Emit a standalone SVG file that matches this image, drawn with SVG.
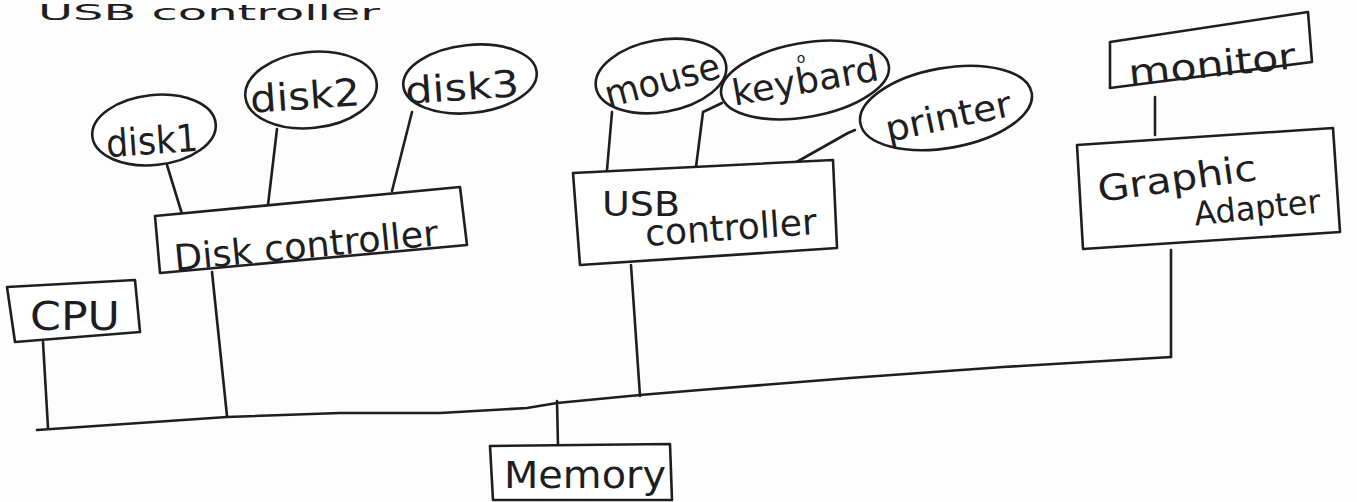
<svg xmlns="http://www.w3.org/2000/svg" width="1357" height="502" viewBox="0 0 1357 502">
<style>
.s{fill:none;stroke:#1e1e22;stroke-width:2.6;stroke-linejoin:round;stroke-linecap:round}
.b{fill:#ffffff;stroke:#1e1e22;stroke-width:2.6;stroke-linejoin:round}
.t{font-family:"DejaVu Sans","Liberation Sans",sans-serif;fill:#1e1e22;text-anchor:middle}
.ts{font-family:"DejaVu Sans","Liberation Sans",sans-serif;fill:#1e1e22;text-anchor:start}
</style>
<rect width="1357" height="502" fill="#fdfdfd"/>
<text class="ts" x="38" y="20" style="font-size:22px" textLength="342" lengthAdjust="spacingAndGlyphs">USB controller</text>

<g id="connectors">
<polyline class="s" points="167,165 182,214"/>
<polyline class="s" points="277,129 268,205"/>
<polyline class="s" points="412,112 392,191"/>
<polyline class="s" points="612,112 607,170"/>
<polyline class="s" points="722,103 703,112 696,167"/>
<polyline class="s" points="855,130 848,133 793,164"/>
<polyline class="s" points="1155,97 1155,135"/>
<polyline class="s" points="212,272 227,416"/>
<polyline class="s" points="43,342 48,428"/>
<polyline class="s" points="631,265 640,396"/>
<polyline class="s" points="557,401 558,446"/>
<polyline class="s" points="1171,250 1171,357"/>
<polyline class="s" points="37,430 227,417 340,413 440,413 527,408 557,403 640,395 700,390 850,378 1003,367 1171,357"/>
</g>

<g id="disk1">
<ellipse class="b" cx="154" cy="130" rx="62" ry="35" transform="rotate(-6 154 130)"/>
<text class="t" x="152" y="154" style="font-size:38px" textLength="92" lengthAdjust="spacingAndGlyphs" transform="rotate(-4 152 140)">disk1</text>
</g>
<g id="disk2">
<ellipse class="b" cx="311" cy="90" rx="66" ry="38" transform="rotate(-6 311 90)"/>
<text class="t" x="305" y="109" style="font-size:38px" textLength="110" lengthAdjust="spacingAndGlyphs" transform="rotate(-4 305 95)">disk2</text>
</g>
<g id="disk3">
<ellipse class="b" cx="470" cy="79" rx="67" ry="34" transform="rotate(-6 470 79)"/>
<text class="t" x="462" y="100" style="font-size:37px" textLength="114" lengthAdjust="spacingAndGlyphs" transform="rotate(-4 462 86)">disk3</text>
</g>
<g id="disk-controller">
<polygon class="b" points="155,216 460,187 467,245 160,273"/>
<text class="t" x="306" y="258" style="font-size:36px" textLength="265" lengthAdjust="spacingAndGlyphs" transform="rotate(-5.5 306 245)">Disk controller</text>
</g>
<g id="cpu">
<polygon class="b" points="7,287 135,280 140,332 15,342"/>
<text class="t" x="75" y="330" style="font-size:39px" textLength="90" lengthAdjust="spacingAndGlyphs">CPU</text>
</g>
<g id="memory">
<polygon class="b" points="490,446 670,444 672,500 493,500"/>
<text class="t" x="585" y="488" style="font-size:38px" textLength="162" lengthAdjust="spacingAndGlyphs">Memory</text>
</g>
<g id="mouse">
<ellipse class="b" cx="661" cy="76" rx="66" ry="36" transform="rotate(-10 661 76)"/>
<text class="t" x="662" y="93" style="font-size:37px" textLength="118" lengthAdjust="spacingAndGlyphs" transform="rotate(-15 662 80)">mouse</text>
</g>
<g id="keybard">
<ellipse class="b" cx="805" cy="80" rx="85" ry="37" transform="rotate(-10 805 80)"/>
<text class="t" x="805" y="93" style="font-size:36px" textLength="148" lengthAdjust="spacingAndGlyphs" transform="rotate(-10 805 80)">keybard</text>
<text class="t" x="801" y="63" style="font-size:14px">o</text>
</g>
<g id="printer">
<ellipse class="b" cx="946" cy="108" rx="87" ry="40" transform="rotate(-10 946 108)"/>
<text class="t" x="948" y="129" style="font-size:36px" textLength="128" lengthAdjust="spacingAndGlyphs" transform="rotate(-12 948 115)">printer</text>
</g>
<g id="usb-controller">
<polygon class="b" points="573,173 833,160 837,248 580,265"/>
<text class="ts" x="602" y="216" style="font-size:33px" textLength="78" lengthAdjust="spacingAndGlyphs">USB</text>
<text class="ts" x="645" y="240" style="font-size:36px" textLength="172" lengthAdjust="spacingAndGlyphs" transform="rotate(-4 731 230)">controller</text>
</g>
<g id="monitor">
<polygon class="b" points="1110,42 1308,12 1312,62 1110,88"/>
<text class="t" x="1212" y="77" style="font-size:36px" textLength="168" lengthAdjust="spacingAndGlyphs" transform="rotate(-6 1212 64)">monitor</text>
</g>
<g id="graphic-adapter">
<polygon class="b" points="1077,145 1333,128 1340,232 1083,249"/>
<text class="t" x="1177" y="191" style="font-size:36px" textLength="160" lengthAdjust="spacingAndGlyphs" transform="rotate(-8 1177 178)">Graphic</text>
<text class="t" x="1257" y="219" style="font-size:33px" textLength="127" lengthAdjust="spacingAndGlyphs" transform="rotate(-6 1257 206)">Adapter</text>
</g>
</svg>
